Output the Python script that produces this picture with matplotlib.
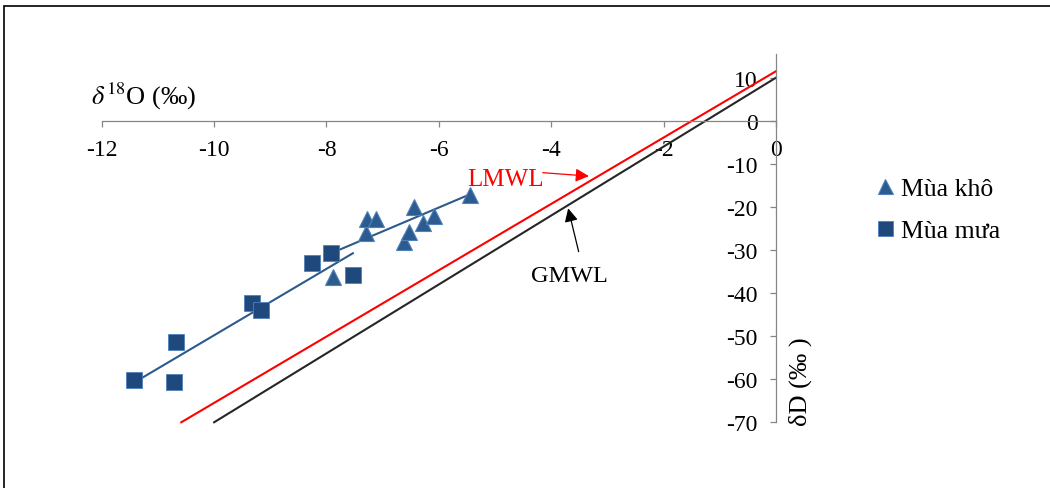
import numpy as np
from matplotlib import pyplot as plt
from matplotlib.patches import Rectangle

plt.rcParams["font.family"] = ["Liberation Serif", "DejaVu Serif"]
plt.rcParams["mathtext.fontset"] = "stix"

# dry season (Mua kho), d18O and dD, permil
kho_o18 = [-7.88, -7.30, -7.27, -7.12, -6.45, -6.62, -6.54, -6.29, -6.09, -5.45]
kho_d = [-36.3, -26.1, -22.7, -22.7, -20.1, -28.2, -25.8, -23.7, -22.2, -17.2]

# rainy season (Mua mua)
mua_o18 = [-11.42, -10.67, -10.71, -9.32, -9.16, -8.26, -7.92, -7.53]
mua_d = [-60.3, -51.3, -60.6, -42.3, -43.9, -33.0, -30.7, -35.8]

# trendlines (slope, intercept) as drawn
kho_fit = (5.54, 13.1)
mua_fit = (7.71, 27.3)

# meteoric water lines
lmwl = (7.7, 11.5)
gmwl = (8.0, 10.0)

x_ticks = [-12, -10, -8, -6, -4, -2, 0]
y_ticks = [-70, -60, -50, -40, -30, -20, -10, 0, 10]

blue = "#1F497D"
edge = "#4F81BD"
trend_col = "#2C5A8C"

fig = plt.figure(figsize=(10.5, 4.89), dpi=100)
ax = fig.add_axes([0.0969, 0.1344, 0.6421, 0.7531])
ax.set_xlim(-12, 0)
ax.set_ylim(-70, 15.5)

# water lines from y=-70 up to x=0
for (m, b), col in [(lmwl, "#FF0000"), (gmwl, "#262626")]:
	xs = np.array([(-70 - b) / m, 0])
	ax.plot(xs, m * xs + b, color=col, lw=1.5, clip_on=False, zorder=2)

# trendlines over each series' range
for xs_d, (m, b) in [(kho_o18, kho_fit), (mua_o18, mua_fit)]:
	xs = np.array([min(xs_d), max(xs_d)])
	ax.plot(xs, m * xs + b, color=trend_col, lw=1.5, zorder=3)

ax.plot(kho_o18, kho_d, linestyle="none", marker="^", ms=12, mfc="#2B5B8F",
	mec=edge, mew=0.8, label="Mùa khô", zorder=4)
ax.plot(mua_o18, mua_d, linestyle="none", marker="s", ms=12, mfc=blue,
	mec=edge, mew=0.6, label="Mùa mưa", zorder=4)

# axes crossing at origin
ax.spines["top"].set_visible(False)
ax.spines["right"].set_visible(False)
ax.spines["left"].set_position(("data", 0))
ax.spines["bottom"].set_position(("data", 0))
for s in ["left", "bottom"]:
	ax.spines[s].set_color("#868686")
	ax.spines[s].set_linewidth(0.9)

ax.set_xticks(x_ticks)
ax.set_yticks(y_ticks)
ax.set_xticklabels([str(t) for t in x_ticks])
ax.set_yticklabels([str(t) for t in y_ticks])
ax.tick_params(axis="both", colors="#868686", labelcolor="black", labelsize=17,
	length=4, width=0.9, direction="out")
ax.tick_params(axis="y", pad=9)
ax.tick_params(axis="x", pad=9)

ax.text(-12.2, 2.3, r"$\delta^{18}$O (‰)", fontsize=19, ha="left", va="bottom")
fig.text(0.762, 0.22, "δD (‰ )", rotation=90, fontsize=19, ha="center", va="center")

ax.annotate("", xy=(-3.28, -12.9), xytext=(-4.2, -12.0),
	arrowprops=dict(arrowstyle="-|>", color="red", lw=0.9, mutation_scale=20))
ax.text(-5.5, -13.6, "LMWL", color="red", fontsize=18, ha="left", va="center")
ax.annotate("", xy=(-3.71, -19.7), xytext=(-3.50, -31.0),
	arrowprops=dict(arrowstyle="-|>", color="black", lw=0.9, mutation_scale=20))
ax.text(-3.67, -36.0, "GMWL", color="black", fontsize=17.5, ha="center", va="center")

leg = ax.legend(loc="center left", bbox_to_anchor=(0.812, 0.57), bbox_transform=fig.transFigure,
	frameon=False, fontsize=18.5, handlelength=0.7, handletextpad=0.3,
	labelspacing=0.75, markerscale=0.9)

# outer frame
fig.patches.append(Rectangle((4 / 1050, -0.2), 1.2, 0.2 + 1 - 7 / 489, transform=fig.transFigure,
	fill=False, edgecolor="black", lw=1.2))

fig.savefig("out.png", dpi=100)
